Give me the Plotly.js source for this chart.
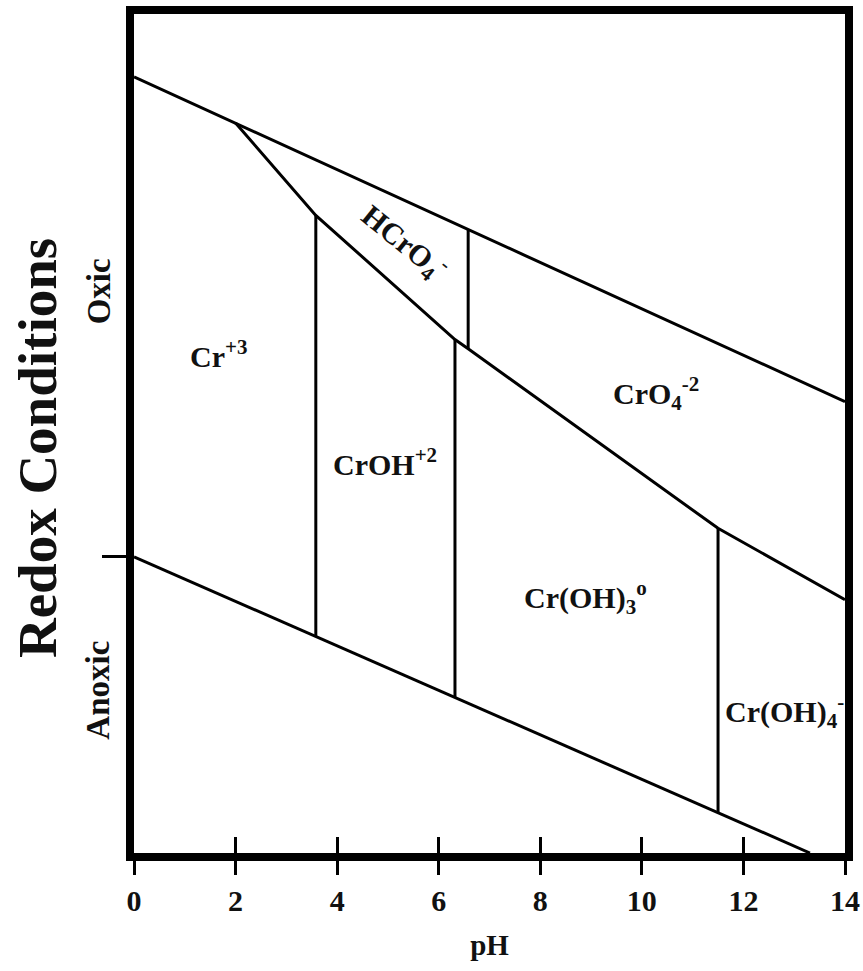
<!DOCTYPE html>
<html>
<head>
<meta charset="utf-8">
<script src="https://cdn.plot.ly/plotly-3.0.1.min.js"></script>
<style>
html,body{margin:0;padding:0;background:#fff;}
#chart{width:863px;height:971px;}
</style>
</head>
<body>
<div id="chart"></div>
<script>
// pH ticks
const phTicks = [0, 2, 4, 6, 8, 10, 12, 14];
const phTickText = ['0', '2', '4', '6', '8', '10', '12', '14'];
// relative redox scale (0 = most reducing, 100 = most oxidizing); boundary Oxic/Anoxic
const redoxBoundary = [35.3];

// Upper stability boundary (oxic limit)
const upperPH = [0, 14];
const upperRedox = [92.5, 53.8];

// Lower stability boundary (anoxic limit)
const lowerPH = [0, 13.31];
const lowerRedox = [35.3, 0];

// Cr(III) / Cr(VI) boundary (segments meet at triple points)
const crBoundaryPH = [2.0, 3.58, 6.32, 6.58, 11.5, 14.0];
const crBoundaryRedox = [87.0, 76.0, 61.2, 60.1, 38.7, 30.2];

// vertical boundaries: [top, bottom]
const crOHLeftPH = [3.58, 3.58];
const crOHLeftRedox = [76.0, 25.8];
const crOH3LeftPH = [6.32, 6.32];
const crOH3LeftRedox = [61.2, 18.5];
const hcro4RightPH = [6.58, 6.58];
const hcro4RightRedox = [74.3, 60.1];
const crOH4LeftPH = [11.5, 11.5];
const crOH4LeftRedox = [38.7, 4.8];

// species labels
const speciesText = ['Cr<sup>+3</sup>', 'CrOH<sup>+2</sup>', 'HCrO<sub>4</sub><sup>-</sup>',
  'CrO<sub>4</sub><sup>-2</sup>', 'Cr(OH)<sub>3</sub><sup>o</sup>', 'Cr(OH)<sub>4</sub><sup>-</sup>'];
const speciesPH = [1.67, 4.94, 5.32, 10.28, 8.90, 12.8];
const speciesRedox = [59.5, 46.6, 72.8, 54.8, 30.5, 16.9];
const speciesAngle = [0, 0, 39, 0, 0, 0];

// condition labels on y axis
const condText = ['Oxic', 'Anoxic'];
const condRedox = [67.0, 19.4];

const serif = 'Liberation Serif, Times New Roman, serif';
const ink = '#111111';

function seg(x, y) {
  return {x: x, y: y, type: 'scatter', mode: 'lines',
    line: {color: '#000', width: 3}, showlegend: false, hoverinfo: 'skip', cliponaxis: true};
}

const traces = [
  seg(upperPH, upperRedox),
  seg(lowerPH, lowerRedox),
  seg(crBoundaryPH, crBoundaryRedox),
  seg(crOHLeftPH, crOHLeftRedox),
  seg(crOH3LeftPH, crOH3LeftRedox),
  seg(hcro4RightPH, hcro4RightRedox),
  seg(crOH4LeftPH, crOH4LeftRedox),
  // carrier for the inner tick axis (draws nothing)
  {x: phTicks, y: phTicks.map(() => null), xaxis: 'x2', yaxis: 'y', type: 'scatter',
   mode: 'lines', showlegend: false, hoverinfo: 'skip'}
];

const annotations = speciesText.map((t, i) => ({
  x: speciesPH[i], y: speciesRedox[i], xref: 'x', yref: 'y', text: t,
  showarrow: false, textangle: speciesAngle[i],
  font: {family: serif, size: 30, color: ink, weight: 'bold'}
}));
condText.forEach((t, i) => annotations.push({
  x: -0.050, y: condRedox[i], xref: 'paper', yref: 'y', text: t,
  showarrow: false, textangle: -90, xanchor: 'center', yanchor: 'middle',
  font: {family: serif, size: 33, color: ink, weight: 'bold'}
}));
// y axis title
annotations.push({
  x: -0.136, y: 0.483, xref: 'paper', yref: 'paper', text: 'Redox Conditions',
  showarrow: false, textangle: -90, xanchor: 'center', yanchor: 'middle',
  font: {family: serif, size: 55, color: ink, weight: 'bold'}
});

const layout = {
  width: 863, height: 971,
  margin: {l: 134, r: 18, t: 14, b: 118},
  paper_bgcolor: '#fff', plot_bgcolor: '#fff',
  showlegend: false,
  xaxis: {
    range: [0, 14], fixedrange: true,
    tickvals: phTicks, ticktext: phTickText,
    ticks: 'outside', ticklen: 14, tickwidth: 3, tickcolor: '#000',
    showline: true, linewidth: 8, linecolor: '#000', mirror: true,
    showgrid: false, zeroline: false,
    tickfont: {family: serif, size: 30, color: ink, weight: 'bold'},
    title: {text: 'pH', font: {family: serif, size: 29, color: ink, weight: 'bold'}, standoff: 22}
  },
  xaxis2: {
    range: [0, 14], overlaying: 'x', anchor: 'y', side: 'bottom', fixedrange: true,
    tickvals: phTicks, ticks: 'inside', ticklen: 16, tickwidth: 3, tickcolor: '#000',
    showticklabels: false, showline: false, showgrid: false, zeroline: false
  },
  yaxis: {
    range: [0, 100], fixedrange: true,
    tickvals: redoxBoundary, ticks: 'outside', ticklen: 24, tickwidth: 3, tickcolor: '#000',
    showticklabels: false,
    showline: true, linewidth: 8, linecolor: '#000', mirror: true,
    showgrid: false, zeroline: false
  },
  annotations: annotations
};

Plotly.newPlot('chart', traces, layout, {staticPlot: true, displayModeBar: false});
</script>
</body>
</html>
